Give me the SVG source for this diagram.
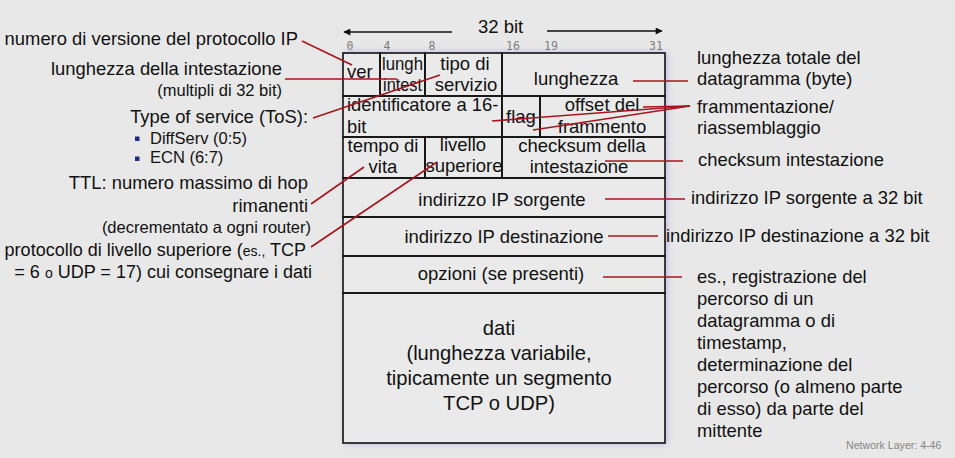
<svg xmlns="http://www.w3.org/2000/svg" width="955" height="458" viewBox="0 0 955 458">
<defs>
<style>
text{font-family:"Liberation Sans",Arial,sans-serif;fill:#111;}
.t{font-size:18.4px;}
.p{font-size:18px;}
.c{font-size:18.5px;text-anchor:middle;}
.cl{font-size:18.5px;}
.s{font-size:16.5px;}
.r{text-anchor:end;}
.d{font-size:20.2px;text-anchor:middle;}
.bit{font-family:"DejaVu Sans Mono",monospace;font-size:11.5px;fill:#7d7d7d;text-anchor:middle;}
.cell{fill:none;stroke:#111;stroke-width:1.6;}
.ln{stroke:#a8141e;stroke-width:1.6;fill:none;}
.ar{stroke:#111;stroke-width:1.6;fill:none;}
.bul{fill:#1f2a8a;}
</style>
<filter id="glow" x="-10%" y="-10%" width="120%" height="120%"><feGaussianBlur stdDeviation="3"/></filter>
<marker id="ah" viewBox="0 0 10 10" refX="9" refY="5" markerWidth="9" markerHeight="7" markerUnits="userSpaceOnUse" orient="auto"><path d="M0,0 L10,5 L0,10 z" fill="#111"/></marker>
</defs>
<rect x="0" y="0" width="955" height="458" fill="#e8e8e8"/>

<g id="header">
<line class="ar" x1="452" y1="32" x2="344" y2="32" marker-end="url(#ah)"/>
<line class="ar" x1="547" y1="31" x2="662" y2="31" marker-end="url(#ah)"/>
<text x="478" y="33" style="font-size:18.5px">32 bit</text>
<text class="bit" x="350" y="50">0</text>
<text class="bit" x="387" y="50">4</text>
<text class="bit" x="432" y="50">8</text>
<text class="bit" x="513" y="50">16</text>
<text class="bit" x="551" y="50">19</text>
<text class="bit" x="656" y="50">31</text>
</g>

<g id="table">
<rect x="345" y="52" width="322" height="392" fill="#8f86d8" opacity="0.5" filter="url(#glow)"/>
<rect x="343" y="53" width="322" height="390" fill="#eaeaea"/>
<g id="ver"><rect class="cell" x="343" y="53" width="37" height="43"/><text class="cl" x="347" y="78">ver</text></g>
<g id="lungh"><rect class="cell" x="380" y="53" width="45" height="43"/><text class="cl" x="382" y="70" textLength="41" lengthAdjust="spacingAndGlyphs">lungh</text><text class="cl" x="383" y="91" textLength="39" lengthAdjust="spacingAndGlyphs">intest</text></g>
<g id="tos"><rect class="cell" x="425" y="53" width="77" height="43"/><text class="c" x="465" y="70">tipo di</text><text class="c" x="466" y="91">servizio</text></g>
<g id="lunghezza"><rect class="cell" x="502" y="53" width="163" height="43"/><text class="c" x="576" y="85">lunghezza</text></g>
<g id="ident"><rect class="cell" x="343" y="96" width="159" height="41"/><text class="t" x="347" y="111">identificatore a 16-</text><text class="t" x="347" y="133">bit</text></g>
<g id="flag"><rect class="cell" x="502" y="96" width="38" height="41"/><text class="c" x="521" y="123">flag</text></g>
<g id="offset"><rect class="cell" x="540" y="96" width="125" height="41"/><text class="c" x="602" y="111">offset del</text><text class="c" x="602" y="133">frammento</text></g>
<g id="ttl"><rect class="cell" x="343" y="137" width="82" height="41"/><text class="c" x="383" y="152">tempo di</text><text class="c" x="383" y="173">vita</text></g>
<g id="proto"><rect class="cell" x="425" y="137" width="77" height="41"/><text class="c" x="463" y="151">livello</text><text class="c" x="464" y="172">superiore</text></g>
<g id="checksum"><rect class="cell" x="502" y="137" width="163" height="41"/><text class="c" x="582" y="152">checksum della</text><text class="c" x="579" y="173">intestazione</text></g>
<g id="src"><rect class="cell" x="343" y="178" width="322" height="39"/><text class="c" x="502" y="206">indirizzo IP sorgente</text></g>
<g id="dst"><rect class="cell" x="343" y="217" width="322" height="39"/><text class="c" x="504" y="243">indirizzo IP destinazione</text></g>
<g id="opt"><rect class="cell" x="343" y="256" width="322" height="37"/><text class="c" x="501" y="280">opzioni (se presenti)</text></g>
<g id="data"><rect class="cell" x="343" y="293" width="322" height="150"/>
<text class="d" x="499" y="335">dati</text>
<text class="d" x="499" y="360">(lunghezza variabile,</text>
<text class="d" x="499" y="385">tipicamente un segmento</text>
<text class="d" x="499" y="410">TCP o UDP)</text></g>
</g>

<g id="left-labels">
<g id="lbl-ver"><text class="t r" x="298" y="45">numero di versione del protocollo IP</text></g>
<g id="lbl-hlen"><text class="t r" x="282" y="75">lunghezza della intestazione</text><text class="s r" x="282" y="96">(multipli di 32 bit)</text></g>
<g id="lbl-tos"><text class="t r" x="308" y="123">Type of service (ToS):</text>
<rect class="bul" x="135" y="136.5" width="4.5" height="4.5"/><text class="s" x="150" y="144">DiffServ (0:5)</text>
<rect class="bul" x="135" y="156.5" width="4.5" height="4.5"/><text class="s" x="150" y="163">ECN (6:7)</text></g>
<g id="lbl-ttl"><text class="t r" x="308" y="189">TTL: numero massimo di hop</text><text class="t r" x="308" y="212">rimanenti</text><text class="s r" x="311" y="233">(decrementato a ogni router)</text></g>
<g id="lbl-proto"><text class="p r" x="306" y="256">protocollo di livello superiore (<tspan style="font-size:14px">es.,</tspan> TCP</text>
<text class="p r" x="312" y="278">= 6 <tspan style="font-size:14px">o</tspan> UDP = 17) cui consegnare i dati</text></g>
</g>

<g id="right-labels">
<g id="lbl-len"><text class="t" x="697" y="64">lunghezza totale del</text><text class="t" x="697" y="85">datagramma (byte)</text></g>
<g id="lbl-frag"><text class="t" x="697" y="113">frammentazione/</text><text class="t" x="697" y="134">riassemblaggio</text></g>
<g id="lbl-cks"><text class="t" x="698" y="166">checksum intestazione</text></g>
<g id="lbl-src"><text class="t" x="691" y="204">indirizzo IP sorgente a 32 bit</text></g>
<g id="lbl-dst"><text class="t" x="666" y="242">indirizzo IP destinazione a 32 bit</text></g>
<g id="lbl-opt">
<text class="t" x="697" y="283">es., registrazione del</text>
<text class="t" x="697" y="305">percorso di un</text>
<text class="t" x="697" y="327">datagramma o di</text>
<text class="t" x="697" y="349">timestamp,</text>
<text class="t" x="697" y="371">determinazione del</text>
<text class="t" x="697" y="393">percorso (o almeno parte</text>
<text class="t" x="697" y="415">di esso) da parte del</text>
<text class="t" x="697" y="437">mittente</text>
</g>
</g>

<g id="connectors">
<line class="ln" x1="302" y1="41" x2="352" y2="65"/>
<line class="ln" x1="285" y1="79" x2="397" y2="79"/>
<line class="ln" x1="313" y1="118" x2="440" y2="75"/>
<line class="ln" x1="311" y1="204" x2="364" y2="167"/>
<line class="ln" x1="311" y1="247" x2="437" y2="162"/>
<line class="ln" x1="633" y1="81" x2="688" y2="81"/>
<line class="ln" x1="643" y1="107" x2="690" y2="106"/>
<line class="ln" x1="492" y1="121" x2="690" y2="106"/>
<line class="ln" x1="533" y1="130" x2="690" y2="106"/>
<line class="ln" x1="605" y1="161" x2="683" y2="161"/>
<line class="ln" x1="605" y1="199" x2="685" y2="199"/>
<line class="ln" x1="608" y1="236" x2="658" y2="236"/>
<line class="ln" x1="603" y1="277" x2="682" y2="277"/>
</g>

<g id="footer"><text x="846" y="449" style="font-size:10.6px;fill:#858585">Network Layer: 4-46</text></g>
</svg>
